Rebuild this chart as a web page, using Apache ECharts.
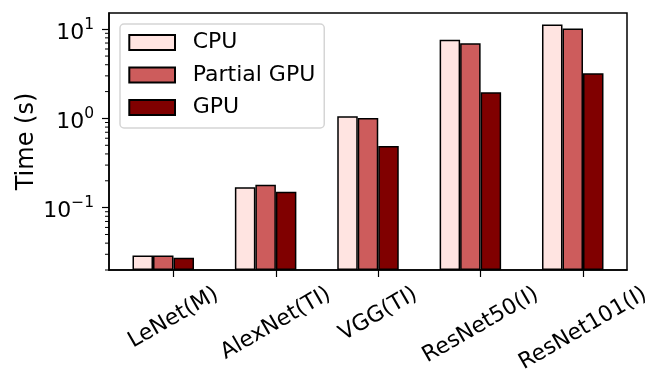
<!DOCTYPE html>
<html>
<head>
<meta charset="utf-8">
<script src="https://cdn.jsdelivr.net/npm/echarts@6/dist/echarts.min.js"></script>
<style>
    body{ margin:0; background:#fff; }
    #chart{ width:665px; height:388px; }
</style>
</head>
<body>
<div id="chart"></div>
<script>
    // 数据
    var categories = ['LeNet(M)', 'AlexNet(TI)', 'VGG(TI)', 'ResNet50(I)', 'ResNet101(I)'];
    var cpuData = [0.029, 0.169, 1.06, 7.6, 11.3];
    var partialGpuData = [0.029, 0.180, 1.01, 6.97, 10.2];
    var gpuData = [0.0275, 0.151, 0.49, 1.97, 3.22];
    var yTicks = [0.1, 1, 10];
    var yMinorTicks = [0.02, 0.03, 0.04, 0.05, 0.06, 0.07, 0.08, 0.09,
        0.2, 0.3, 0.4, 0.5, 0.6, 0.7, 0.8, 0.9,
        2, 3, 4, 5, 6, 7, 8, 9];

    var font = 'DejaVu Sans';
    var tickIdx = categories.map(function (c, i) { return i; });

    // matplotlib 的标签是旋转后外框居中, 这里用 rich padding 模拟
    var ctx = document.createElement('canvas').getContext('2d');
    ctx.font = '22px "' + font + '"';
    var labelMargin = 44;
    var rich = {};
    categories.forEach(function (c, i) {
        var w = ctx.measureText(c).width;
        var D = Math.max(0, 282 + w / 4 + 10.8 - 270 - labelMargin);
        rich['l' + i] = {
            fontSize: 22, fontFamily: font, color: '#000', lineHeight: 25,
            padding: [1.732 * D, D, 0, 0]
        };
    });

    function toPoints(arr) {
        // 组中心相对刻度左移 0.1
        return arr.map(function (v, i) { return [i - 0.1, v]; });
    }

    var chart = echarts.init(document.getElementById('chart'), null, {renderer: 'canvas'});
    var barStyle = function (color) {
        return {color: color, borderColor: '#000', borderWidth: 1.5};
    };
    var option = {
        animation: false,
        textStyle: {fontFamily: font},
        grid: {
            left: 109, top: 13, right: 38, bottom: 118,
            outerBoundsMode: 'none',
            show: true, borderColor: '#000', borderWidth: 1.5, backgroundColor: 'transparent'
        },
        legend: {
            orient: 'vertical',
            left: 120, top: 24,
            padding: [7.5, 9, 9.5, 8.3],
            itemWidth: 45.7, itemHeight: 15, itemGap: 10.5,
            icon: 'rect',
            backgroundColor: '#fff',
            borderColor: '#d5d5d5', borderWidth: 1.5, borderRadius: 4,
            textStyle: {fontSize: 22, color: '#000', fontFamily: font, padding: [0, 0, 0, 12.7]},
            data: ['CPU', 'Partial GPU', 'GPU']
        },
        xAxis: {
            type: 'value',
            min: -0.63, max: 4.43,
            splitLine: {show: false},
            axisLine: {show: true, onZero: false, lineStyle: {color: '#000', width: 1.5}},
            axisTick: {show: true, length: 7, lineStyle: {color: '#000', width: 1.2}, customValues: tickIdx},
            axisLabel: {
                customValues: tickIdx,
                rotate: 30,
                align: 'center',
                verticalAlign: 'middle',
                margin: labelMargin,
                interval: 0,
                hideOverlap: false,
                showMinLabel: true,
                showMaxLabel: true,
                formatter: function (v) {
                    var i = Math.round(v);
                    return '{l' + i + '|' + categories[i] + '}';
                },
                rich: rich
            }
        },
        yAxis: {
            type: 'log', logBase: 10,
            min: 0.02, max: 15.2,
            startValue: 0.02,
            name: 'Time (s)',
            nameLocation: 'middle',
            nameRotate: 90,
            nameGap: 70,
            nameMoveOverlap: false,
            nameTextStyle: {fontSize: 24, color: '#000', fontFamily: font},
            splitLine: {show: false},
            axisLine: {show: true, onZero: false, lineStyle: {color: '#000', width: 1.5}},
            axisTick: {show: true, length: 7, lineStyle: {color: '#000', width: 1.2}, customValues: yTicks},
            axisLabel: {
                customValues: yTicks,
                margin: 15,
                showMinLabel: true,
                showMaxLabel: true,
                formatter: function (v) {
                    var e = Math.round(Math.log(v) / Math.LN10);
                    return '{b|10}{s|' + (e < 0 ? '\u2212' + (-e) : e) + '}';
                },
                rich: {
                    b: {fontSize: 22, color: '#000', fontFamily: font, padding: [8, 0, 0, 0]},
                    s: {fontSize: 15.5, color: '#000', fontFamily: font, padding: [0, 0, 9, 0]}
                }
            }
        },
        series: [
            {name: 'CPU', type: 'bar', barWidth: 20.5, barGap: '0%', data: toPoints(cpuData), itemStyle: barStyle('#ffe4e1')},
            {name: 'Partial GPU', type: 'bar', barWidth: 20.5, barGap: '0%', data: toPoints(partialGpuData), itemStyle: barStyle('#cd5c5c')},
            {name: 'GPU', type: 'bar', barWidth: 20.5, barGap: '0%', data: toPoints(gpuData), itemStyle: barStyle('#800000')},
            {
                // 对数轴次刻度
                name: 'minorTicks', type: 'custom', silent: true, clip: false,
                data: yMinorTicks.map(function (v) { return [0, v]; }),
                renderItem: function (params, api) {
                    var p = api.coord([api.value(0), api.value(1)]);
                    var x = params.coordSys.x;
                    return {
                        type: 'line',
                        shape: {x1: x - 4, y1: p[1], x2: x, y2: p[1]},
                        style: {stroke: '#000', lineWidth: 1}
                    };
                }
            }
        ]
    };
    chart.setOption(option);
</script>
</body>
</html>
